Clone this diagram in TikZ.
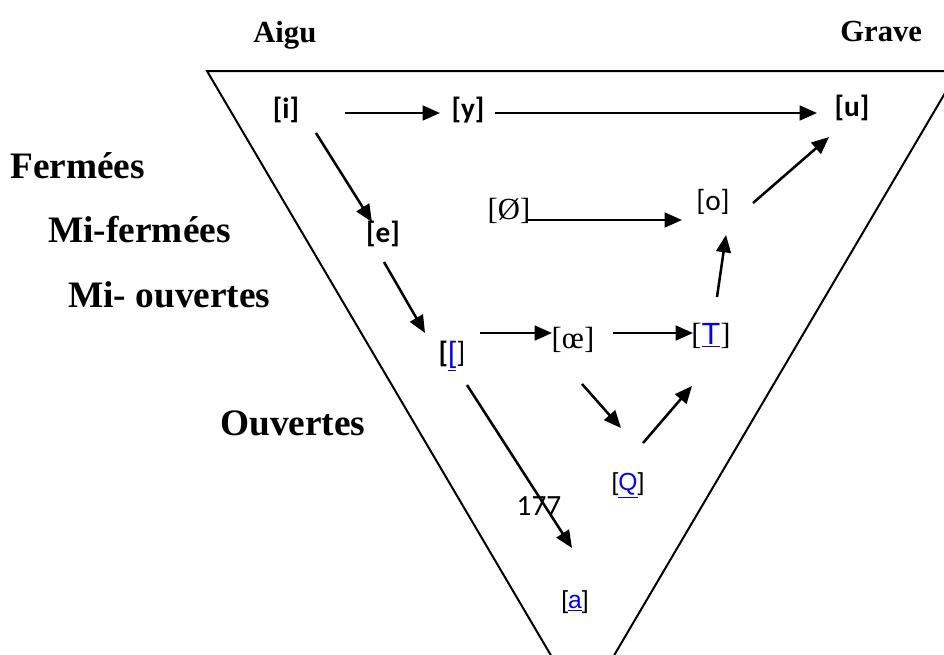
\documentclass[tikz,border=0pt]{standalone}
\usepackage{fontspec}
\setmainfont{Liberation Serif}
\newfontfamily\calfont{Carlito}
\newfontfamily\arifont{Liberation Sans}
\usetikzlibrary{arrows.meta}
\newcommand\blueul[1]{\textcolor{blue}{\underline{#1}}}
\begin{document}
\begin{tikzpicture}[x=0.75pt,y=-0.75pt,
  tri/.style={line width=1.5pt},
  arr/.style={line width=1.9pt,-{Triangle[length=13pt,width=11pt]}},
  head/.style={font=\fontsize{28}{30}\selectfont\bfseries,inner sep=0,anchor=base west},
  side/.style={font=\fontsize{23}{25}\selectfont\bfseries,inner sep=0,anchor=base west},
  cb/.style={font=\calfont\fontsize{22}{24}\selectfont\bfseries,inner sep=0},
  cr/.style={font=\calfont\fontsize{22}{24}\selectfont,inner sep=0},
  sr/.style={font=\fontsize{23}{25}\selectfont,inner sep=0},
  sa/.style={font=\arifont\fontsize{18.5}{20}\selectfont,inner sep=0}]
\useasboundingbox (0,0) rectangle (944,654);
\begin{scope}
\clip (0,0) rectangle (944,654);
\draw[tri] (207,71) -- (958,71) -- (582.5,709) -- cycle;
\end{scope}
% headings
\node[side] (aigu) at (253,42) {Aigu};
\node[side] (grave) at (840,41) {Grave};
\node[head] (ferm) at (10,178) {Fermées};
\node[head] (mifer) at (48,242) {Mi-fermées};
\node[head] (miouv) at (68,307) {Mi- ouvertes};
\node[head] (ouv) at (220,435) {Ouvertes};
% vowels
\node[cb] (i) at (286,110) {[i]};
\node[cb] (y) at (468,110) {[y]};
\node[cb] (u) at (852,108) {[u]};
\node[cb] (e) at (383,234) {[e]};
\node[sr] (oe0) at (509,211) {[Ø]};
\node[cr] (o) at (713,202) {[o]};
\node[cb] (eps) at (452,356) {[\blueul{\arifont\mdseries[}\mdseries]};
\node[sr] (oe) at (573,340) {[œ]};
\node[sr] (T) at (711,336) {[\blueul{\arifont T}]};
\node[sa] (Q) at (628,485) {[\blueul{Q}]};
\node[sa] (a) at (575,602) {[\blueul{a}]};
\node[cr] (num) at (539,506) {177};
% arrows
\draw[arr] ([shift={(59,3)}]i.center) -- ([shift={(-28,3)}]y.center);
\draw[arr] ([shift={(27,3)}]y.center) -- ([shift={(-35,5)}]u.center);
\draw[arr] ([shift={(30,23)}]i.center) -- ([shift={(-11,-12)}]e.center);
\draw[arr] ([shift={(1,28)}]e.center) -- ([shift={(-27,-23)}]eps.center);
\draw[arr] ([shift={(19,9)}]oe0.center) -- ([shift={(-31,18)}]o.center);
\draw[arr] ([shift={(40,1)}]o.center) -- ([shift={(-23,29)}]u.center);
\draw[arr] ([shift={(6,-39)}]T.center) -- ([shift={(13,33)}]o.center);
\draw[arr] ([shift={(28,-23)}]eps.center) -- ([shift={(-21,-7)}]oe.center);
\draw[arr] ([shift={(40,-7)}]oe.center) -- ([shift={(-18,-3)}]T.center);
\draw[arr] ([shift={(9,44)}]oe.center) -- ([shift={(-7,-57)}]Q.center);
\draw[arr] ([shift={(15,-42)}]Q.center) -- ([shift={(-19,50)}]T.center);
\draw[arr] ([shift={(15,29)}]eps.center) -- ([shift={(-3,-54)}]a.center);
\end{tikzpicture}
\end{document}
